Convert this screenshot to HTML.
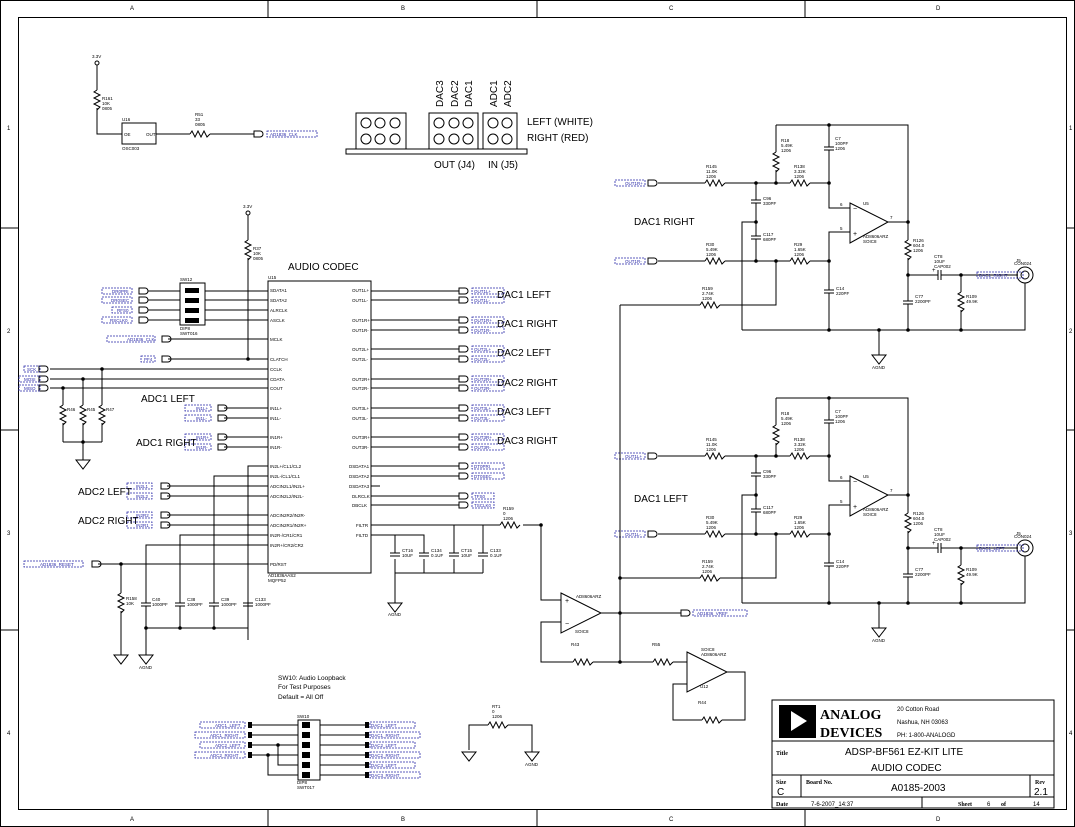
<!DOCTYPE html>
<html><head><meta charset="utf-8"><style>
html,body{margin:0;padding:0;background:#fff;}
svg{display:block;font-family:"Liberation Sans",sans-serif;}
.w{stroke:#000;stroke-width:1;fill:none;}
.b{stroke:#2a2aa8;stroke-width:0.8;stroke-dasharray:2,1;fill:none;}
.t{font-size:4.5px;fill:#000;}
.bl{font-size:4.5px;fill:#2a2aa8;}
.big{font-size:10px;fill:#000;}
</style></head><body>
<svg width="1075" height="827" viewBox="0 0 1075 827" xmlns="http://www.w3.org/2000/svg">
<defs>
<path id="rh" d="M0,0 l2,-3 l3,6 l3,-6 l3,6 l3,-6 l3,6 l3,-3" class="w"/>
<path id="rv" d="M0,0 l-3,2 l6,3 l-6,3 l6,3 l-6,3 l6,3 l-3,3" class="w"/>
<g id="cv"><line x1="-5" y1="0" x2="5" y2="0" class="w"/><line x1="-5" y1="3" x2="5" y2="3" class="w"/></g>
<g id="ch"><line x1="0" y1="-5" x2="0" y2="5" class="w"/><line x1="3" y1="-5" x2="3" y2="5" class="w"/></g>
<path id="gnd" d="M-7,0 h14 l-7,9 z" class="w"/>
<path id="bub" d="M0,-3 h6 a3,3 0 0 1 0,6 h-6 z" class="w"/>
<circle id="dot" r="1.8" fill="#000"/>
<g id="flt">
<polyline class="w" points="776,125 908,125 908,222"/>
<line class="w" x1="776" y1="125" x2="776" y2="152"/><use href="#rv" x="776" y="152"/><line class="w" x1="776" y1="170" x2="776" y2="183"/>
<line class="w" x1="829" y1="125" x2="829" y2="147"/><use href="#cv" x="829" y="147"/><line class="w" x1="829" y1="150" x2="829" y2="183"/>
<line class="w" x1="658" y1="183" x2="705" y2="183"/><use href="#rh" x="705" y="183"/><line class="w" x1="725" y1="183" x2="790" y2="183"/><use href="#rh" x="790" y="183"/><line class="w" x1="810" y1="183" x2="829" y2="183"/>
<polyline class="w" points="829,183 829,208 850,208"/>
<polyline class="w" points="850,232 829,232 829,261"/>
<path class="w" d="M850,203 L888,222 L850,243 Z"/>
<text class="t" x="840" y="206">6</text><text class="t" x="840" y="230">5</text><text class="t" x="890" y="219">7</text>
<text x="853" y="211" font-size="7">−</text><text x="853" y="236" font-size="7">+</text>
<text class="t" x="863" y="205">U5</text><text class="t" x="863" y="238">AD8606ARZ</text><text class="t" x="863" y="243">SOIC8</text>
<line class="w" x1="888" y1="222" x2="908" y2="222"/>
<line class="w" x1="756" y1="183" x2="756" y2="200"/><use href="#cv" x="756" y="200"/><line class="w" x1="756" y1="203" x2="756" y2="222"/>
<line class="w" x1="756" y1="222" x2="756" y2="236"/><use href="#cv" x="756" y="236"/><line class="w" x1="756" y1="239" x2="756" y2="261"/>
<polyline class="w" points="756,222 742,222 742,330"/>
<line class="w" x1="658" y1="261" x2="705" y2="261"/><use href="#rh" x="705" y="261"/><line class="w" x1="725" y1="261" x2="790" y2="261"/><use href="#rh" x="790" y="261"/><line class="w" x1="810" y1="261" x2="829" y2="261"/>
<line class="w" x1="620" y1="305" x2="700" y2="305"/><use href="#rh" x="700" y="305"/><polyline class="w" points="720,305 776,305 776,261"/>
<line class="w" x1="829" y1="261" x2="829" y2="290"/><use href="#cv" x="829" y="290"/><line class="w" x1="829" y1="293" x2="829" y2="330"/>
<line class="w" x1="908" y1="222" x2="908" y2="240"/><use href="#rv" x="908" y="240"/><line class="w" x1="908" y1="258" x2="908" y2="275"/>
<line class="w" x1="908" y1="275" x2="938" y2="275"/><use href="#ch" x="938" y="275"/><line class="w" x1="941" y1="275" x2="1018" y2="275"/>
<text x="932" y="272" font-size="6">+</text>
<line class="w" x1="908" y1="275" x2="908" y2="301"/><use href="#cv" x="908" y="301"/><line class="w" x1="908" y1="304" x2="908" y2="330"/>
<line class="w" x1="961" y1="275" x2="961" y2="292"/><use href="#rv" x="961" y="292"/><line class="w" x1="961" y1="310" x2="961" y2="330"/>
<circle class="w" cx="1025" cy="275" r="8"/><circle class="w" cx="1025" cy="275" r="4"/>
<polyline class="w" points="1025,283 1025,330 742,330"/>
<line class="w" x1="879" y1="330" x2="879" y2="355"/><use href="#gnd" x="879" y="355"/><text class="t" x="872" y="369">AGND</text>
<rect class="b" x="615" y="180" width="30" height="6"/><use href="#bub" x="648" y="183"/>
<rect class="b" x="615" y="258" width="30" height="6"/><use href="#bub" x="648" y="261"/>
<rect class="b" x="977" y="272" width="46" height="6"/>
<use href="#dot" x="756" y="183"/><use href="#dot" x="776" y="183"/><use href="#dot" x="829" y="183"/><use href="#dot" x="829" y="125"/><use href="#dot" x="756" y="222"/><use href="#dot" x="756" y="261"/><use href="#dot" x="776" y="261"/><use href="#dot" x="829" y="261"/><use href="#dot" x="908" y="222"/><use href="#dot" x="908" y="275"/><use href="#dot" x="961" y="275"/><use href="#dot" x="829" y="330"/><use href="#dot" x="879" y="330"/><use href="#dot" x="908" y="330"/><use href="#dot" x="961" y="330"/>
<text class="t" x="706" y="168">R145</text><text class="t" x="706" y="173">11.0K</text><text class="t" x="706" y="178">1206</text>
<text class="t" x="794" y="168">R138</text><text class="t" x="794" y="173">3.32K</text><text class="t" x="794" y="178">1206</text>
<text class="t" x="781" y="142">R18</text><text class="t" x="781" y="147">5.49K</text><text class="t" x="781" y="152">1206</text>
<text class="t" x="835" y="140">C7</text><text class="t" x="835" y="145">100PF</text><text class="t" x="835" y="150">1206</text>
<text class="t" x="763" y="200">C96</text><text class="t" x="763" y="205">330PF</text>
<text class="t" x="763" y="236">C117</text><text class="t" x="763" y="241">680PF</text>
<text class="t" x="706" y="246">R30</text><text class="t" x="706" y="251">5.49K</text><text class="t" x="706" y="256">1206</text>
<text class="t" x="794" y="246">R29</text><text class="t" x="794" y="251">1.65K</text><text class="t" x="794" y="256">1206</text>
<text class="t" x="702" y="290">R159</text><text class="t" x="702" y="295">2.74K</text><text class="t" x="702" y="300">1206</text>
<text class="t" x="836" y="290">C14</text><text class="t" x="836" y="295">220PF</text>
<text class="t" x="913" y="242">R126</text><text class="t" x="913" y="247">604.0</text><text class="t" x="913" y="252">1206</text>
<text class="t" x="934" y="258">CT8</text><text class="t" x="934" y="263">10UF</text><text class="t" x="934" y="268">CAP002</text>
<text class="t" x="915" y="298">C77</text><text class="t" x="915" y="303">2200PF</text>
<text class="t" x="966" y="298">R109</text><text class="t" x="966" y="303">49.9K</text>
<text class="t" x="1016" y="262">J5</text><text class="t" x="1014" y="265">CON024</text>
</g>
</defs>

<rect x="0.5" y="0.5" width="1074" height="826" class="w"/>
<rect x="18.5" y="17.5" width="1048" height="792" class="w"/>
<g class="w">
<line x1="268" y1="0" x2="268" y2="17"/><line x1="537" y1="0" x2="537" y2="17"/><line x1="805" y1="0" x2="805" y2="17"/>
<line x1="268" y1="810" x2="268" y2="827"/><line x1="537" y1="810" x2="537" y2="827"/><line x1="805" y1="810" x2="805" y2="827"/>
<line x1="0" y1="228" x2="18" y2="228"/><line x1="0" y1="430" x2="18" y2="430"/><line x1="0" y1="630" x2="18" y2="630"/>
<line x1="1067" y1="228" x2="1075" y2="228"/><line x1="1067" y1="430" x2="1075" y2="430"/><line x1="1067" y1="630" x2="1075" y2="630"/>
</g>
<g class="t" font-size="6">
<text x="130" y="10" font-size="6">A</text><text x="401" y="10" font-size="6">B</text><text x="669" y="10" font-size="6">C</text><text x="936" y="10" font-size="6">D</text>
<text x="130" y="821" font-size="6">A</text><text x="401" y="821" font-size="6">B</text><text x="669" y="821" font-size="6">C</text><text x="936" y="821" font-size="6">D</text>
<text x="7" y="130" font-size="6">1</text><text x="7" y="333" font-size="6">2</text><text x="7" y="535" font-size="6">3</text><text x="7" y="735" font-size="6">4</text>
<text x="1069" y="130" font-size="6">1</text><text x="1069" y="333" font-size="6">2</text><text x="1069" y="535" font-size="6">3</text><text x="1069" y="735" font-size="6">4</text>
</g>

<circle class="w" cx="97" cy="63" r="2"/><text class="t" x="92" y="58">3.3V</text>
<line class="w" x1="97" y1="65" x2="97" y2="90"/><use href="#rv" x="97" y="90"/><polyline class="w" points="97,108 97,134 122,134"/>
<text class="t" x="102" y="100">R161</text><text class="t" x="102" y="105">10K</text><text class="t" x="102" y="110">0805</text>
<rect class="w" x="122" y="123" width="34" height="21"/><text class="t" x="122" y="121">U16</text><text class="t" x="124" y="136">OE</text><text class="t" x="146" y="136">OUT</text><text class="t" x="122" y="150">OSC003</text>
<line class="w" x1="156" y1="134" x2="190" y2="134"/><use href="#rh" x="190" y="134"/><line class="w" x1="210" y1="134" x2="254" y2="134"/>
<text class="t" x="195" y="116">R51</text><text class="t" x="195" y="121">33</text><text class="t" x="195" y="126">0805</text>
<use href="#bub" x="254" y="134"/><rect class="b" x="267" y="131" width="50" height="6"/><text class="bl" x="270" y="136">AD1836_CLK</text>

<rect class="w" x="356" y="113" width="50" height="36"/><rect class="w" x="429" y="113" width="49" height="36"/><rect class="w" x="483" y="113" width="34" height="36"/>
<rect class="w" x="346" y="149" width="181" height="5"/>
<g class="w">
<circle cx="366" cy="123" r="5"/><circle cx="380" cy="123" r="5"/><circle cx="395" cy="123" r="5"/><circle cx="366" cy="139" r="5"/><circle cx="380" cy="139" r="5"/><circle cx="395" cy="139" r="5"/>
<circle cx="439" cy="123" r="5"/><circle cx="454" cy="123" r="5"/><circle cx="468" cy="123" r="5"/><circle cx="439" cy="139" r="5"/><circle cx="454" cy="139" r="5"/><circle cx="468" cy="139" r="5"/>
<circle cx="493" cy="123" r="5"/><circle cx="507" cy="123" r="5"/><circle cx="493" cy="139" r="5"/><circle cx="507" cy="139" r="5"/>
</g>
<g class="big" font-size="9">
<text transform="translate(443,107) rotate(-90)">DAC3</text><text transform="translate(458,107) rotate(-90)">DAC2</text><text transform="translate(472,107) rotate(-90)">DAC1</text>
<text transform="translate(497,107) rotate(-90)">ADC1</text><text transform="translate(511,107) rotate(-90)">ADC2</text>
<text x="527" y="125">LEFT (WHITE)</text><text x="527" y="141">RIGHT (RED)</text>
<text x="434" y="168">OUT (J4)</text><text x="488" y="168">IN (J5)</text>
</g>

<text class="big" x="288" y="270">AUDIO CODEC</text>
<rect class="w" x="268" y="281" width="103" height="292"/>
<text class="t" x="268" y="279">U15</text><text class="t" x="268" y="577">AD1836AAS2</text><text class="t" x="268" y="582">MQFP52</text>
<circle class="w" cx="248" cy="213" r="2"/><text class="t" x="243" y="208">3.3V</text>
<line class="w" x1="248" y1="215" x2="248" y2="240"/><use href="#rv" x="248" y="240"/><line class="w" x1="248" y1="258" x2="248" y2="359"/>
<text class="t" x="253" y="250">R37</text><text class="t" x="253" y="255">10K</text><text class="t" x="253" y="260">0805</text>
<rect class="w" x="180" y="283" width="25" height="42"/><text class="t" x="180" y="281">SW12</text><text class="t" x="180" y="330">DIP8</text><text class="t" x="180" y="335">SWT016</text>
<g fill="#000"><rect x="185" y="288" width="14" height="5"/><rect x="185" y="298" width="14" height="5"/><rect x="185" y="308" width="14" height="5"/><rect x="185" y="318" width="14" height="5"/></g>
<g class="w">
<line x1="148" y1="291" x2="180" y2="291"/><line x1="148" y1="300" x2="180" y2="300"/><line x1="148" y1="310" x2="180" y2="310"/><line x1="148" y1="320" x2="180" y2="320"/>
<line x1="205" y1="291" x2="268" y2="291"/><line x1="205" y1="300" x2="268" y2="300"/><line x1="205" y1="310" x2="268" y2="310"/><line x1="205" y1="320" x2="268" y2="320"/>
<line x1="168" y1="339" x2="268" y2="339"/><line x1="168" y1="359" x2="268" y2="359"/>
<line x1="50" y1="369" x2="268" y2="369"/><line x1="50" y1="379" x2="268" y2="379"/><line x1="50" y1="388" x2="268" y2="388"/>
<line x1="224" y1="408" x2="268" y2="408"/><line x1="224" y1="418" x2="268" y2="418"/><line x1="224" y1="437" x2="268" y2="437"/><line x1="224" y1="447" x2="268" y2="447"/>
<polyline points="268,466 248,466 248,640"/><polyline points="268,476 214,476 214,603"/>
<line x1="167" y1="486" x2="268" y2="486"/><line x1="167" y1="496" x2="268" y2="496"/><line x1="167" y1="515" x2="268" y2="515"/><line x1="167" y1="525" x2="268" y2="525"/>
<polyline points="268,535 180,535 180,603"/><polyline points="268,545 146,545 146,603"/>
<line x1="98" y1="564" x2="268" y2="564"/>
</g>
<g>
<use href="#bub" x="139" y="291"/><use href="#bub" x="139" y="300"/><use href="#bub" x="139" y="310"/><use href="#bub" x="139" y="320"/>
<rect class="b" x="102" y="288" width="30" height="6"/><rect class="b" x="102" y="297" width="30" height="6"/><rect class="b" x="112" y="307" width="20" height="6"/><rect class="b" x="102" y="317" width="30" height="6"/>
<use href="#bub" x="162" y="339"/><rect class="b" x="107" y="336" width="48" height="6"/>
<use href="#bub" x="162" y="359"/><rect class="b" x="141" y="356" width="14" height="6"/>
<use href="#bub" x="39" y="369"/><use href="#bub" x="39" y="379"/><use href="#bub" x="39" y="388"/>
<rect class="b" x="24" y="366" width="16" height="6"/><rect class="b" x="19" y="376" width="21" height="6"/><rect class="b" x="19" y="385" width="21" height="6"/>
<use href="#bub" x="218" y="408"/><use href="#bub" x="218" y="418"/><use href="#bub" x="218" y="437"/><use href="#bub" x="218" y="447"/>
<rect class="b" x="185" y="405" width="26" height="6"/><rect class="b" x="185" y="415" width="26" height="6"/><rect class="b" x="185" y="434" width="26" height="6"/><rect class="b" x="185" y="444" width="26" height="6"/>
<use href="#bub" x="161" y="486"/><use href="#bub" x="161" y="496"/><use href="#bub" x="161" y="515"/><use href="#bub" x="161" y="525"/>
<rect class="b" x="127" y="483" width="25" height="6"/><rect class="b" x="127" y="493" width="25" height="6"/><rect class="b" x="127" y="512" width="25" height="6"/><rect class="b" x="127" y="522" width="25" height="6"/>
<use href="#bub" x="92" y="564"/><rect class="b" x="24" y="561" width="59" height="6"/>
</g>
<g class="bl">
<text x="112" y="293">DR0PRI</text><text x="111" y="302">DR0SEC</text><text x="117" y="312">RFS0</text><text x="110" y="322">RSCLK0</text>
<text x="127" y="341">AD1836_CLK</text><text x="144" y="361">PF4</text>
<text x="27" y="371">SCK</text><text x="24" y="381">MOSI</text><text x="24" y="390">MISO</text>
<text x="196" y="410">IN1L+</text><text x="196" y="420">IN1L-</text><text x="196" y="439">IN1R+</text><text x="196" y="449">IN1R-</text>
<text x="136" y="488">IN2L1</text><text x="136" y="498">IN2L2</text><text x="136" y="517">IN2R2</text><text x="136" y="527">IN2R1</text>
<text x="40" y="566">AD1836_RESET</text>
<text x="474" y="293">OUT1L+</text><text x="474" y="302">OUT1L-</text><text x="474" y="322">OUT1R+</text><text x="474" y="332">OUT1R-</text>
<text x="474" y="351">OUT2L+</text><text x="474" y="361">OUT2L-</text><text x="474" y="381">OUT2R+</text><text x="474" y="390">OUT2R-</text>
<text x="474" y="410">OUT3L+</text><text x="474" y="420">OUT3L-</text><text x="474" y="439">OUT3R+</text><text x="474" y="449">OUT3R-</text>
<text x="474" y="468">DT0PRI</text><text x="474" y="478">DT0SEC</text><text x="474" y="498">TFS0</text><text x="474" y="507">TSCLK0</text>
</g>
<text class="big" x="141" y="402">ADC1 LEFT</text><text class="big" x="136" y="446">ADC1 RIGHT</text>
<text class="big" x="78" y="495">ADC2 LEFT</text><text class="big" x="78" y="524">ADC2 RIGHT</text>
<g class="t">
<text x="270" y="292">SDATA1</text><text x="270" y="302">SDATA2</text><text x="270" y="312">ALRCLK</text><text x="270" y="322">ASCLK</text><text x="270" y="341">MCLK</text><text x="270" y="361">CLATCH</text><text x="270" y="371">CCLK</text><text x="270" y="381">CDATA</text><text x="270" y="390">COUT</text>
<text x="270" y="410">IN1L+</text><text x="270" y="420">IN1L-</text><text x="270" y="439">IN1R+</text><text x="270" y="449">IN1R-</text>
<text x="270" y="468">IN2L+/CL1/CL2</text><text x="270" y="478">IN2L-/CL1/CL1</text><text x="270" y="488">ADCIN2L1/IN2L+</text><text x="270" y="498">ADCIN2L2/IN2L-</text><text x="270" y="517">ADCIN2R2/IN2R-</text><text x="270" y="527">ADCIN2R1/IN2R+</text><text x="270" y="537">IN2R-/CR1/CR1</text><text x="270" y="547">IN2R+/CR2/CR2</text><text x="270" y="566">PD/RST</text>
<text x="352" y="292">OUT1L+</text><text x="352" y="302">OUT1L-</text><text x="352" y="322">OUT1R+</text><text x="352" y="332">OUT1R-</text><text x="352" y="351">OUT2L+</text><text x="352" y="361">OUT2L-</text><text x="352" y="381">OUT2R+</text><text x="352" y="390">OUT2R-</text><text x="352" y="410">OUT3L+</text><text x="352" y="420">OUT3L-</text><text x="352" y="439">OUT3R+</text><text x="352" y="449">OUT3R-</text>
<text x="349" y="468">DSDATA1</text><text x="349" y="478">DSDATA2</text><text x="349" y="488">DSDATA3</text><text x="352" y="498">DLRCLK</text><text x="352" y="507">DBCLK</text><text x="356" y="527">FILTR</text><text x="356" y="537">FILTD</text>
</g>
<g class="w">
<line x1="371" y1="291" x2="459" y2="291"/><line x1="371" y1="300" x2="459" y2="300"/><line x1="371" y1="320" x2="459" y2="320"/><line x1="371" y1="330" x2="459" y2="330"/>
<line x1="371" y1="349" x2="459" y2="349"/><line x1="371" y1="359" x2="459" y2="359"/><line x1="371" y1="379" x2="459" y2="379"/><line x1="371" y1="388" x2="459" y2="388"/>
<line x1="371" y1="408" x2="459" y2="408"/><line x1="371" y1="418" x2="459" y2="418"/><line x1="371" y1="437" x2="459" y2="437"/><line x1="371" y1="447" x2="459" y2="447"/>
<line x1="371" y1="466" x2="459" y2="466"/><line x1="371" y1="476" x2="459" y2="476"/><line x1="371" y1="486" x2="380" y2="486"/><line x1="371" y1="496" x2="459" y2="496"/><line x1="371" y1="505" x2="459" y2="505"/>
<line x1="371" y1="525" x2="500" y2="525"/><polyline points="523,525 541,525 541,600 561,600"/>
<polyline points="371,535 424,535 424,573"/><line x1="395" y1="535" x2="395" y2="603"/><line x1="395" y1="573" x2="483" y2="573"/>
<line x1="454" y1="525" x2="454" y2="573"/><line x1="483" y1="525" x2="483" y2="573"/>
</g>
<use href="#rh" x="500" y="525"/><text class="t" x="503" y="510">R159</text><text class="t" x="503" y="515">0</text><text class="t" x="503" y="520">1206</text>
<g fill="#fff"><rect x="389" y="553" width="12" height="6"/><rect x="418" y="553" width="12" height="6"/><rect x="448" y="553" width="12" height="6"/><rect x="477" y="553" width="12" height="6"/></g>
<use href="#cv" x="424" y="553"/><use href="#cv" x="483" y="553"/><use href="#cv" x="395" y="553"/><use href="#cv" x="454" y="553"/>
<text class="t" x="402" y="552">CT16</text><text class="t" x="402" y="557">10UF</text><text class="t" x="431" y="552">C134</text><text class="t" x="431" y="557">0.1UF</text><text class="t" x="461" y="552">CT15</text><text class="t" x="461" y="557">10UF</text><text class="t" x="490" y="552">C133</text><text class="t" x="490" y="557">0.1UF</text>
<use href="#gnd" x="395" y="603"/><text class="t" x="388" y="616">AGND</text>
<g class="b">
<rect x="472" y="288" width="32" height="6"/><rect x="472" y="297" width="32" height="6"/><rect x="472" y="317" width="32" height="6"/><rect x="472" y="327" width="32" height="6"/>
<rect x="472" y="346" width="32" height="6"/><rect x="472" y="356" width="32" height="6"/><rect x="472" y="376" width="32" height="6"/><rect x="472" y="385" width="32" height="6"/>
<rect x="472" y="405" width="32" height="6"/><rect x="472" y="415" width="32" height="6"/><rect x="472" y="434" width="32" height="6"/><rect x="472" y="444" width="32" height="6"/>
<rect x="472" y="463" width="32" height="6"/><rect x="472" y="473" width="32" height="6"/><rect x="472" y="493" width="22" height="6"/><rect x="472" y="502" width="22" height="6"/>
</g>
<g>
<use href="#bub" x="459" y="291"/><use href="#bub" x="459" y="300"/><use href="#bub" x="459" y="320"/><use href="#bub" x="459" y="330"/><use href="#bub" x="459" y="349"/><use href="#bub" x="459" y="359"/><use href="#bub" x="459" y="379"/><use href="#bub" x="459" y="388"/><use href="#bub" x="459" y="408"/><use href="#bub" x="459" y="418"/><use href="#bub" x="459" y="437"/><use href="#bub" x="459" y="447"/><use href="#bub" x="459" y="466"/><use href="#bub" x="459" y="476"/><use href="#bub" x="459" y="496"/><use href="#bub" x="459" y="505"/>
</g>
<g class="big">
<text x="497" y="298">DAC1 LEFT</text><text x="497" y="327">DAC1 RIGHT</text><text x="497" y="356">DAC2 LEFT</text><text x="497" y="386">DAC2 RIGHT</text><text x="497" y="415">DAC3 LEFT</text><text x="497" y="444">DAC3 RIGHT</text>
</g>
<g class="w">
<line x1="63" y1="388" x2="63" y2="405"/><line x1="83" y1="379" x2="83" y2="405"/><line x1="102" y1="369" x2="102" y2="405"/>
<line x1="63" y1="423" x2="63" y2="442"/><line x1="83" y1="423" x2="83" y2="460"/><line x1="102" y1="423" x2="102" y2="442"/><line x1="63" y1="442" x2="102" y2="442"/>
</g>
<use href="#rv" x="63" y="405"/><use href="#rv" x="83" y="405"/><use href="#rv" x="102" y="405"/><use href="#gnd" x="83" y="460"/>
<text class="t" x="67" y="411">R46</text><text class="t" x="87" y="411">R45</text><text class="t" x="106" y="411">R47</text>
<use href="#dot" x="63" y="388"/><use href="#dot" x="83" y="379"/><use href="#dot" x="102" y="369"/><use href="#dot" x="83" y="442"/><use href="#dot" x="248" y="359"/>
<g class="w"><line x1="121" y1="564" x2="121" y2="593"/><line x1="121" y1="611" x2="121" y2="655"/><line x1="146" y1="606" x2="146" y2="655"/><line x1="180" y1="606" x2="180" y2="628"/><line x1="214" y1="606" x2="214" y2="628"/><line x1="248" y1="606" x2="248" y2="628"/><line x1="146" y1="628" x2="248" y2="628"/></g>
<use href="#rv" x="121" y="593"/><use href="#cv" x="146" y="603"/><use href="#cv" x="180" y="603"/><use href="#cv" x="214" y="603"/><use href="#cv" x="248" y="603"/>
<use href="#gnd" x="121" y="655"/><use href="#gnd" x="146" y="655"/><text class="t" x="139" y="669">AGND</text>
<text class="t" x="126" y="600">R158</text><text class="t" x="126" y="605">10K</text><text class="t" x="152" y="601">C40</text><text class="t" x="152" y="606">1000PF</text><text class="t" x="187" y="601">C38</text><text class="t" x="187" y="606">1000PF</text><text class="t" x="221" y="601">C39</text><text class="t" x="221" y="606">1000PF</text><text class="t" x="255" y="601">C133</text><text class="t" x="255" y="606">1000PF</text>
<use href="#dot" x="121" y="564"/><use href="#dot" x="146" y="628"/><use href="#dot" x="180" y="628"/><use href="#dot" x="214" y="628"/>

<use href="#flt"/>
<use href="#flt" y="273"/>
<text class="big" x="634" y="225">DAC1 RIGHT</text>
<text class="big" x="634" y="502">DAC1 LEFT</text>
<text class="bl" x="625" y="185">OUT1R+</text><text class="bl" x="625" y="263">OUT1R-</text><text class="bl" x="979" y="277">DAC1_RIGHT</text>
<text class="bl" x="625" y="458">OUT1L+</text><text class="bl" x="625" y="536">OUT1L-</text><text class="bl" x="979" y="550">DAC1_LEFT</text>

<line class="w" x1="620" y1="305" x2="620" y2="662"/>
<path class="w" d="M561,593 L601,613 L561,633 Z"/><text x="565" y="603" font-size="7">+</text><text x="565" y="626" font-size="7">−</text>
<text class="t" x="576" y="598">AD8606ARZ</text><text class="t" x="575" y="633">SOIC8</text>
<polyline class="w" points="561,622 541,622 541,662 573,662"/><use href="#rh" x="573" y="662"/><line class="w" x1="593" y1="662" x2="653" y2="662"/><use href="#rh" x="653" y="662"/><line class="w" x1="673" y1="662" x2="687" y2="662"/>
<line class="w" x1="601" y1="613" x2="681" y2="613"/><use href="#bub" x="681" y="613"/><rect class="b" x="693" y="610" width="54" height="6"/><text class="bl" x="697" y="615">AD1836_VREF</text>
<path class="w" d="M687,652 L727,672 L687,692 Z"/><polyline class="w" points="727,672 745,672 745,720 722,720"/><use href="#rh" x="702" y="720"/><polyline class="w" points="702,720 673,720 673,684 687,684"/>
<text class="t" x="701" y="651">SOIC8</text><text class="t" x="701" y="656">AD8606ARZ</text><text class="t" x="700" y="688">U12</text>
<text class="t" x="571" y="646">R43</text><text class="t" x="652" y="646">R55</text><text class="t" x="698" y="704">R44</text>
<use href="#dot" x="620" y="613"/><use href="#dot" x="620" y="662"/><use href="#dot" x="620" y="578"/><use href="#dot" x="541" y="525"/>

<text x="278" y="680" font-size="6.5">SW10: Audio Loopback</text><text x="278" y="689" font-size="6.5">For Test Purposes</text><text x="278" y="699" font-size="6.5">Default = All Off</text>
<rect class="w" x="298" y="720" width="22" height="60"/><text class="t" x="297" y="718">SW10</text><text class="t" x="297" y="784">DIP8</text><text class="t" x="297" y="789">SWT017</text>
<g fill="#000"><rect x="302" y="722" width="8" height="6"/><rect x="302" y="732" width="8" height="6"/><rect x="302" y="742" width="8" height="6"/><rect x="302" y="752" width="8" height="6"/><rect x="302" y="762" width="8" height="6"/><rect x="302" y="772" width="8" height="6"/></g>
<g class="w">
<line x1="251" y1="725" x2="298" y2="725"/><line x1="251" y1="735" x2="298" y2="735"/><line x1="251" y1="745" x2="298" y2="745"/><line x1="251" y1="755" x2="298" y2="755"/>
<polyline points="278,745 278,765 298,765"/><polyline points="268,755 268,775 298,775"/>
<line x1="320" y1="725" x2="366" y2="725"/><line x1="320" y1="735" x2="366" y2="735"/><line x1="320" y1="745" x2="366" y2="745"/><line x1="320" y1="755" x2="366" y2="755"/><line x1="320" y1="765" x2="366" y2="765"/><line x1="320" y1="775" x2="366" y2="775"/>
</g>
<g fill="#000"><rect x="248" y="722" width="4" height="6"/><rect x="248" y="732" width="4" height="6"/><rect x="248" y="742" width="4" height="6"/><rect x="248" y="752" width="4" height="6"/>
<rect x="365" y="722" width="4" height="6"/><rect x="365" y="732" width="4" height="6"/><rect x="365" y="742" width="4" height="6"/><rect x="365" y="752" width="4" height="6"/><rect x="365" y="762" width="4" height="6"/><rect x="365" y="772" width="4" height="6"/></g>
<use href="#dot" x="278" y="745"/><use href="#dot" x="268" y="755"/>
<g class="b"><rect x="200" y="722" width="45" height="6"/><rect x="195" y="732" width="50" height="6"/><rect x="200" y="742" width="45" height="6"/><rect x="195" y="752" width="50" height="6"/>
<rect x="370" y="722" width="45" height="6"/><rect x="370" y="732" width="50" height="6"/><rect x="370" y="742" width="45" height="6"/><rect x="370" y="752" width="50" height="6"/><rect x="370" y="762" width="45" height="6"/><rect x="370" y="772" width="50" height="6"/></g>
<g class="bl"><text x="215" y="727">ADC1_LEFT</text><text x="210" y="737">ADC1_RIGHT</text><text x="215" y="747">ADC2_LEFT</text><text x="210" y="757">ADC2_RIGHT</text>
<text x="371" y="727">DAC1_LEFT</text><text x="371" y="737">DAC1_RIGHT</text><text x="371" y="747">DAC2_LEFT</text><text x="371" y="757">DAC2_RIGHT</text><text x="371" y="767">DAC3_LEFT</text><text x="371" y="777">DAC3_RIGHT</text></g>
<polyline class="w" points="469,750 469,725 488,725"/><use href="#rh" x="488" y="725"/><polyline class="w" points="508,725 532,725 532,752"/>
<use href="#gnd" x="469" y="752"/><use href="#gnd" x="532" y="752"/><text class="t" x="525" y="766">AGND</text><text class="t" x="492" y="708">RT1</text><text class="t" x="492" y="713">0</text><text class="t" x="492" y="718">1206</text>

<g class="w">
<rect x="772" y="700" width="282" height="108"/>
<line x1="772" y1="741" x2="1054" y2="741"/><line x1="772" y1="775" x2="1054" y2="775"/><line x1="772" y1="797" x2="1054" y2="797"/>
<line x1="801" y1="775" x2="801" y2="797"/><line x1="1030" y1="775" x2="1030" y2="797"/><line x1="922" y1="797" x2="922" y2="808"/>
</g>
<rect x="779" y="705" width="37" height="33" fill="#000"/><path d="M791,711 L807,721 L791,731 Z" fill="#fff"/>
<text x="820" y="719" font-family="Liberation Serif,serif" font-weight="bold" font-size="14">ANALOG</text>
<text x="820" y="737" font-family="Liberation Serif,serif" font-weight="bold" font-size="14">DEVICES</text>
<text x="897" y="711" font-size="6">20 Cotton Road</text><text x="897" y="724" font-size="6">Nashua, NH 03063</text><text x="897" y="737" font-size="6">PH: 1-800-ANALOGD</text>
<text x="776" y="755" font-family="Liberation Serif,serif" font-weight="bold" font-size="6">Title</text>
<text x="845" y="755" font-size="10">ADSP-BF561 EZ-KIT LITE</text><text x="871" y="771" font-size="10">AUDIO CODEC</text>
<text x="776" y="784" font-family="Liberation Serif,serif" font-weight="bold" font-size="6">Size</text><text x="777" y="795" font-size="10">C</text>
<text x="806" y="784" font-family="Liberation Serif,serif" font-weight="bold" font-size="6">Board No.</text><text x="891" y="791" font-size="10">A0185-2003</text>
<text x="1035" y="784" font-family="Liberation Serif,serif" font-weight="bold" font-size="6">Rev</text><text x="1034" y="795" font-size="10">2.1</text>
<text x="776" y="806" font-family="Liberation Serif,serif" font-weight="bold" font-size="6">Date</text><text x="811" y="806" font-size="6">7-6-2007_14:37</text>
<text x="958" y="806" font-family="Liberation Serif,serif" font-weight="bold" font-size="6">Sheet</text><text x="987" y="806" font-size="6">6</text><text x="1001" y="806" font-family="Liberation Serif,serif" font-weight="bold" font-size="6">of</text><text x="1033" y="806" font-size="6">14</text>
</svg>
</body></html>
